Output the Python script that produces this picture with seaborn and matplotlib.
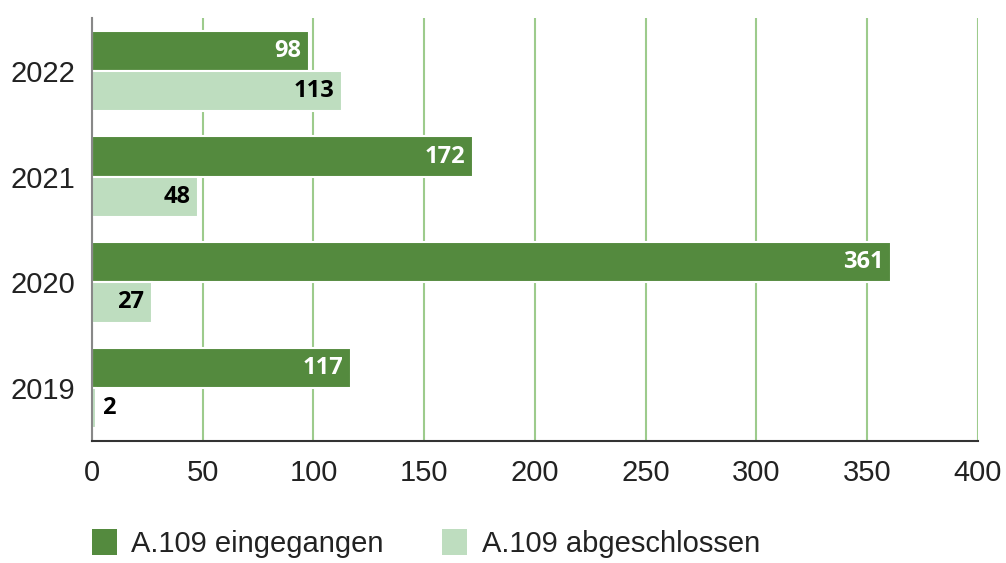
import matplotlib
matplotlib.use("Agg")
import matplotlib.pyplot as plt
import seaborn as sns
import pandas as pd
from matplotlib.patches import Patch

years = ["2022", "2021", "2020", "2019"]
eingegangen = [98, 172, 361, 117]
abgeschlossen = [113, 48, 27, 2]
series = ["A.109 eingegangen", "A.109 abgeschlossen"]
xticks = [0, 50, 100, 150, 200, 250, 300, 350, 400]

dark = "#548A3E"
light = "#BEDDBF"
grid = "#9DCB8C"

sns.set_theme(style="white")
plt.rcParams['font.family'] = ['Liberation Sans', 'DejaVu Sans']

df = pd.DataFrame({
    "Jahr": years * 2,
    "Wert": eingegangen + abgeschlossen,
    "Serie": [series[0]] * len(years) + [series[1]] * len(years),
})

fig = plt.figure(figsize=(10.06, 5.63), dpi=100)
ax = fig.add_axes([0.0915, 0.2167, 0.8805, 0.7513])

sns.barplot(data=df, y="Jahr", x="Wert", hue="Serie", order=years, hue_order=series,
            palette=[dark, light], saturation=1, orient="h", width=0.76, edgecolor="white",
            linewidth=1.5, ax=ax, legend=False)

ax.set_xlim(0, 400)
ax.set_ylim(3.5, -0.5)
ax.set_xticks(xticks)
ax.set_xticklabels([str(t) for t in xticks], fontsize=21, color="#222222")
ax.tick_params(axis="y", labelsize=21, labelcolor="#222222", length=0, pad=12)
ax.tick_params(axis="x", length=0, pad=13)
ax.set_yticks(range(len(years)))
ax.set_yticklabels(years)
ax.set_yticks([-0.5, 0.5, 1.5, 2.5, 3.5], minor=True)
ax.tick_params(axis="y", which="minor", length=5, width=2, color="#222222", direction="inout")
ax.set_xlabel("")
ax.set_ylabel("")
ax.xaxis.grid(True, color=grid, linewidth=1.5)
ax.set_axisbelow(True)
for s in ["top", "right"]:
    ax.spines[s].set_visible(False)
ax.spines["left"].set_color("#888888")
ax.spines["left"].set_linewidth(1.5)
ax.spines["bottom"].set_color("#333333")
ax.spines["bottom"].set_linewidth(1.5)

bw = 0.38
lab_font = ["Open Sans", "DejaVu Sans"]
for i, (a, b) in enumerate(zip(eingegangen, abgeschlossen)):
    ax.text(a - 3.5, i - bw / 2, str(a), ha="right", va="center", color="white",
            fontsize=17, fontweight="bold", family=lab_font)
    if b >= 15:
        ax.text(b - 3.5, i + bw / 2, str(b), ha="right", va="center", color="black",
                fontsize=17, fontweight="bold", family=lab_font)
    else:
        ax.text(b + 2.5, i + bw / 2, str(b), ha="left", va="center", color="black",
                fontsize=17, fontweight="bold", family=lab_font)

handles = [Patch(facecolor=dark, edgecolor="none"), Patch(facecolor=light, edgecolor="none")]
fig.legend(handles, series, loc="center left", bbox_to_anchor=(0.0915, 0.034), ncol=2,
           frameon=False, fontsize=21, handlelength=0.85, handleheight=1.0,
           handletextpad=0.5, columnspacing=2.0, labelcolor="#222222",
           borderpad=0, borderaxespad=0)

fig.savefig("out.png", dpi=100)
